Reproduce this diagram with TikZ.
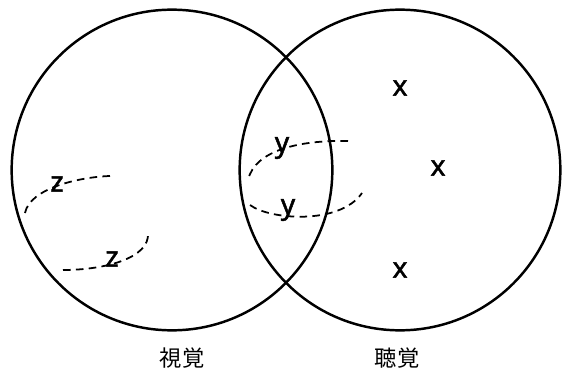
\documentclass[tikz,border=0pt]{standalone}
\usepackage{fontspec}
\setmainfont{Noto Sans}
\newfontfamily\jpfont{Noto Sans CJK JP}
\newfontfamily\elemfont{Noto Sans}[FakeBold=1.6]
\usetikzlibrary{positioning}

\tikzset{
  setcircle/.style={draw,circle,line width=2.1pt,minimum size=9.62cm,inner sep=0pt},
  elem/.style={font=\elemfont\fontsize{24}{24}\selectfont,inner sep=0pt},
  setname/.style={font=\jpfont\fontsize{19}{19}\selectfont,inner sep=0pt},
  trail/.style={line width=1.5pt,dash pattern=on 6.5pt off 4.5pt}
}

\begin{document}
\begin{tikzpicture}[x=0.03cm,y=-0.03cm]
\useasboundingbox (0,0) rectangle (567,372);
% two sets
\node[setcircle] (vis) at (172,170) {};
\node[setcircle] (aud) at (400,170) {};
\node[setname] (visname) at (182,358) {視覚};
\node[setname] (audname) at (397,358) {聴覚};
% elements
\node[elem] (x1) at (400,88) {x};
\node[elem] (x2) at (438,168) {x};
\node[elem] (x3) at (400,270) {x};
\node[elem] (y1) at (282,148) {y};
\node[elem] (y2) at (288,210) {y};
\node[elem] (z1) at (57,184) {z};
\node[elem] (z2) at (112,259) {z};
% dashed trails
\draw[trail] (110,176) .. controls (80,177) and (30,188) .. (25,213);
\draw[trail] (63,270) .. controls (105,270) and (150,258) .. (148,233);
\draw[trail] (348,141) .. controls (300,140) and (255,150) .. (248,180);
\draw[trail] (250,205) .. controls (270,220) and (340,225) .. (362,193);
\end{tikzpicture}
\end{document}
